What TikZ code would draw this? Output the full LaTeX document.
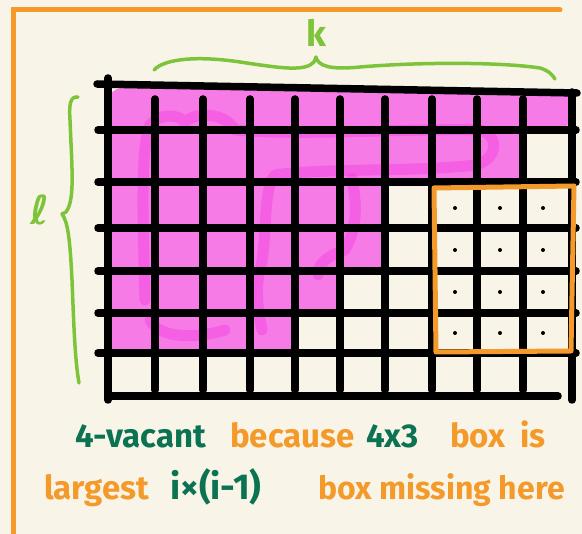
\documentclass[tikz,border=0pt]{standalone}
\usepackage{fontspec}
\setmainfont{Fira Sans}
\newfontfamily\dejavu{DejaVu Sans}
\definecolor{bg}{HTML}{F8F5E8}
\definecolor{org}{HTML}{F39A2B}
\definecolor{pinkf}{HTML}{F67BE6}
\definecolor{pinkd}{HTML}{F43DE0}
\definecolor{lgreen}{HTML}{7DC43B}
\definecolor{dgreen}{HTML}{0B7352}
\tikzset{
  gridline/.style={line width=7.5pt, line cap=round, black},
  brace/.style={lgreen, line width=3.5pt, line cap=round, line join=round},
  hl/.style={pinkd, opacity=0.45, line width=11pt, line cap=round, line join=round},
  txt/.style={anchor=base west, inner sep=0pt, font=\fontsize{33}{36}\selectfont\bfseries},
  dotc/.style={circle, fill=black, inner sep=0pt, minimum size=4pt}
}
\begin{document}
\begin{tikzpicture}[x=1pt,y=-1pt]
\fill[bg] (0,0) rectangle (582,534);
\useasboundingbox (0,0) rectangle (582,534);
% frame
\draw[org, line width=5pt, line cap=round] (13,534) -- (13,10) -- (560,10);
% pink region
\fill[pinkf, rounded corners=14pt] (108,88) -- (571,90) -- (571,130) -- (523,130) -- (523,182) -- (385,182) -- (385,271) -- (340,271) -- (340,313) -- (295,313) -- (295,353) -- (108,353) -- cycle;
% darker highlight strokes
\draw[hl] (145,300) .. controls (143,220) and (140,150) .. (150,125) .. controls (160,112) and (180,115) .. (185,122) .. controls (195,112) and (225,112) .. (235,130) .. controls (300,136) and (420,128) .. (480,130) .. controls (500,135) and (498,160) .. (475,165) .. controls (420,172) and (320,168) .. (275,175) .. controls (262,190) and (268,240) .. (260,270) .. controls (255,290) and (258,310) .. (262,330);
\draw[hl] (150,320) .. controls (160,340) and (200,338) .. (225,330);
\draw[hl] (352,178) .. controls (358,210) and (356,230) .. (345,250) .. controls (330,255) and (318,262) .. (318,275);
% grid: horizontal lines
\draw[gridline] (97,84) -- (577,93);
\foreach \y in {130,182,228,271,313,353} \draw[gridline] (98,\y) -- (576,\y);
\draw[gridline] (108,396) -- (558,396);
% vertical lines
\draw[gridline] (108,78) -- (108,400);
\draw[gridline] (572,92) -- (572,400);
\foreach \x in {155,203,250,295,340,385,432,477,523} \draw[gridline] (\x,99) -- (\x,390);
% orange box
\draw[org, line width=5pt, line join=round, line cap=round] (434,188) -- (574,186) -- (571,351) -- (436,352) -- cycle;
% dots
\foreach \x/\xn in {455/a,500/b,543/c}
  \foreach \y/\yn in {208/1,250/2,292/3,333/4}
    \node[dotc] (d\xn\yn) at (\x,\y) {};
% top brace
\draw[brace] (154,70) .. controls (165,58) and (200,56) .. (240,62) .. controls (280,68) and (305,72) .. (314,62) -- (316,57) .. controls (318,66) and (330,70) .. (360,67) .. controls (420,62) and (500,62) .. (540,68) .. controls (550,71) and (553,76) .. (555,79);
\node[lgreen, font=\fontsize{36}{38}\selectfont\bfseries] (k) at (316,33) {k};
% left brace
\draw[brace] (78,97) .. controls (70,96) and (69,105) .. (70,120) .. controls (72,170) and (75,200) .. (66,212) -- (62,214) .. controls (68,222) and (70,240) .. (72,280) .. controls (74,330) and (75,360) .. (79,383);
\node[lgreen, font=\fontsize{40}{42}\selectfont\dejavu\bfseries] (l) at (40,210) {ℓ};
% caption
\node[txt, dgreen] (t1) at (75,448) {4-vacant};
\node[txt, org] (t2) at (230,448) {because};
\node[txt, dgreen] (t3) at (366,448) {4x3};
\node[txt, org] (t4) at (450,448) {box};
\node[txt, org] (t5) at (520,448) {is};
\node[txt, org] (t6) at (44,500) {largest};
\node[txt, dgreen, font=\fontsize{36}{38}\selectfont\bfseries] (t7) at (170,500) {i×(i-1)};
\node[txt, org, font=\fontsize{32}{36}\selectfont\bfseries] (t8) at (318,500) {box missing here};
\end{tikzpicture}
\end{document}
